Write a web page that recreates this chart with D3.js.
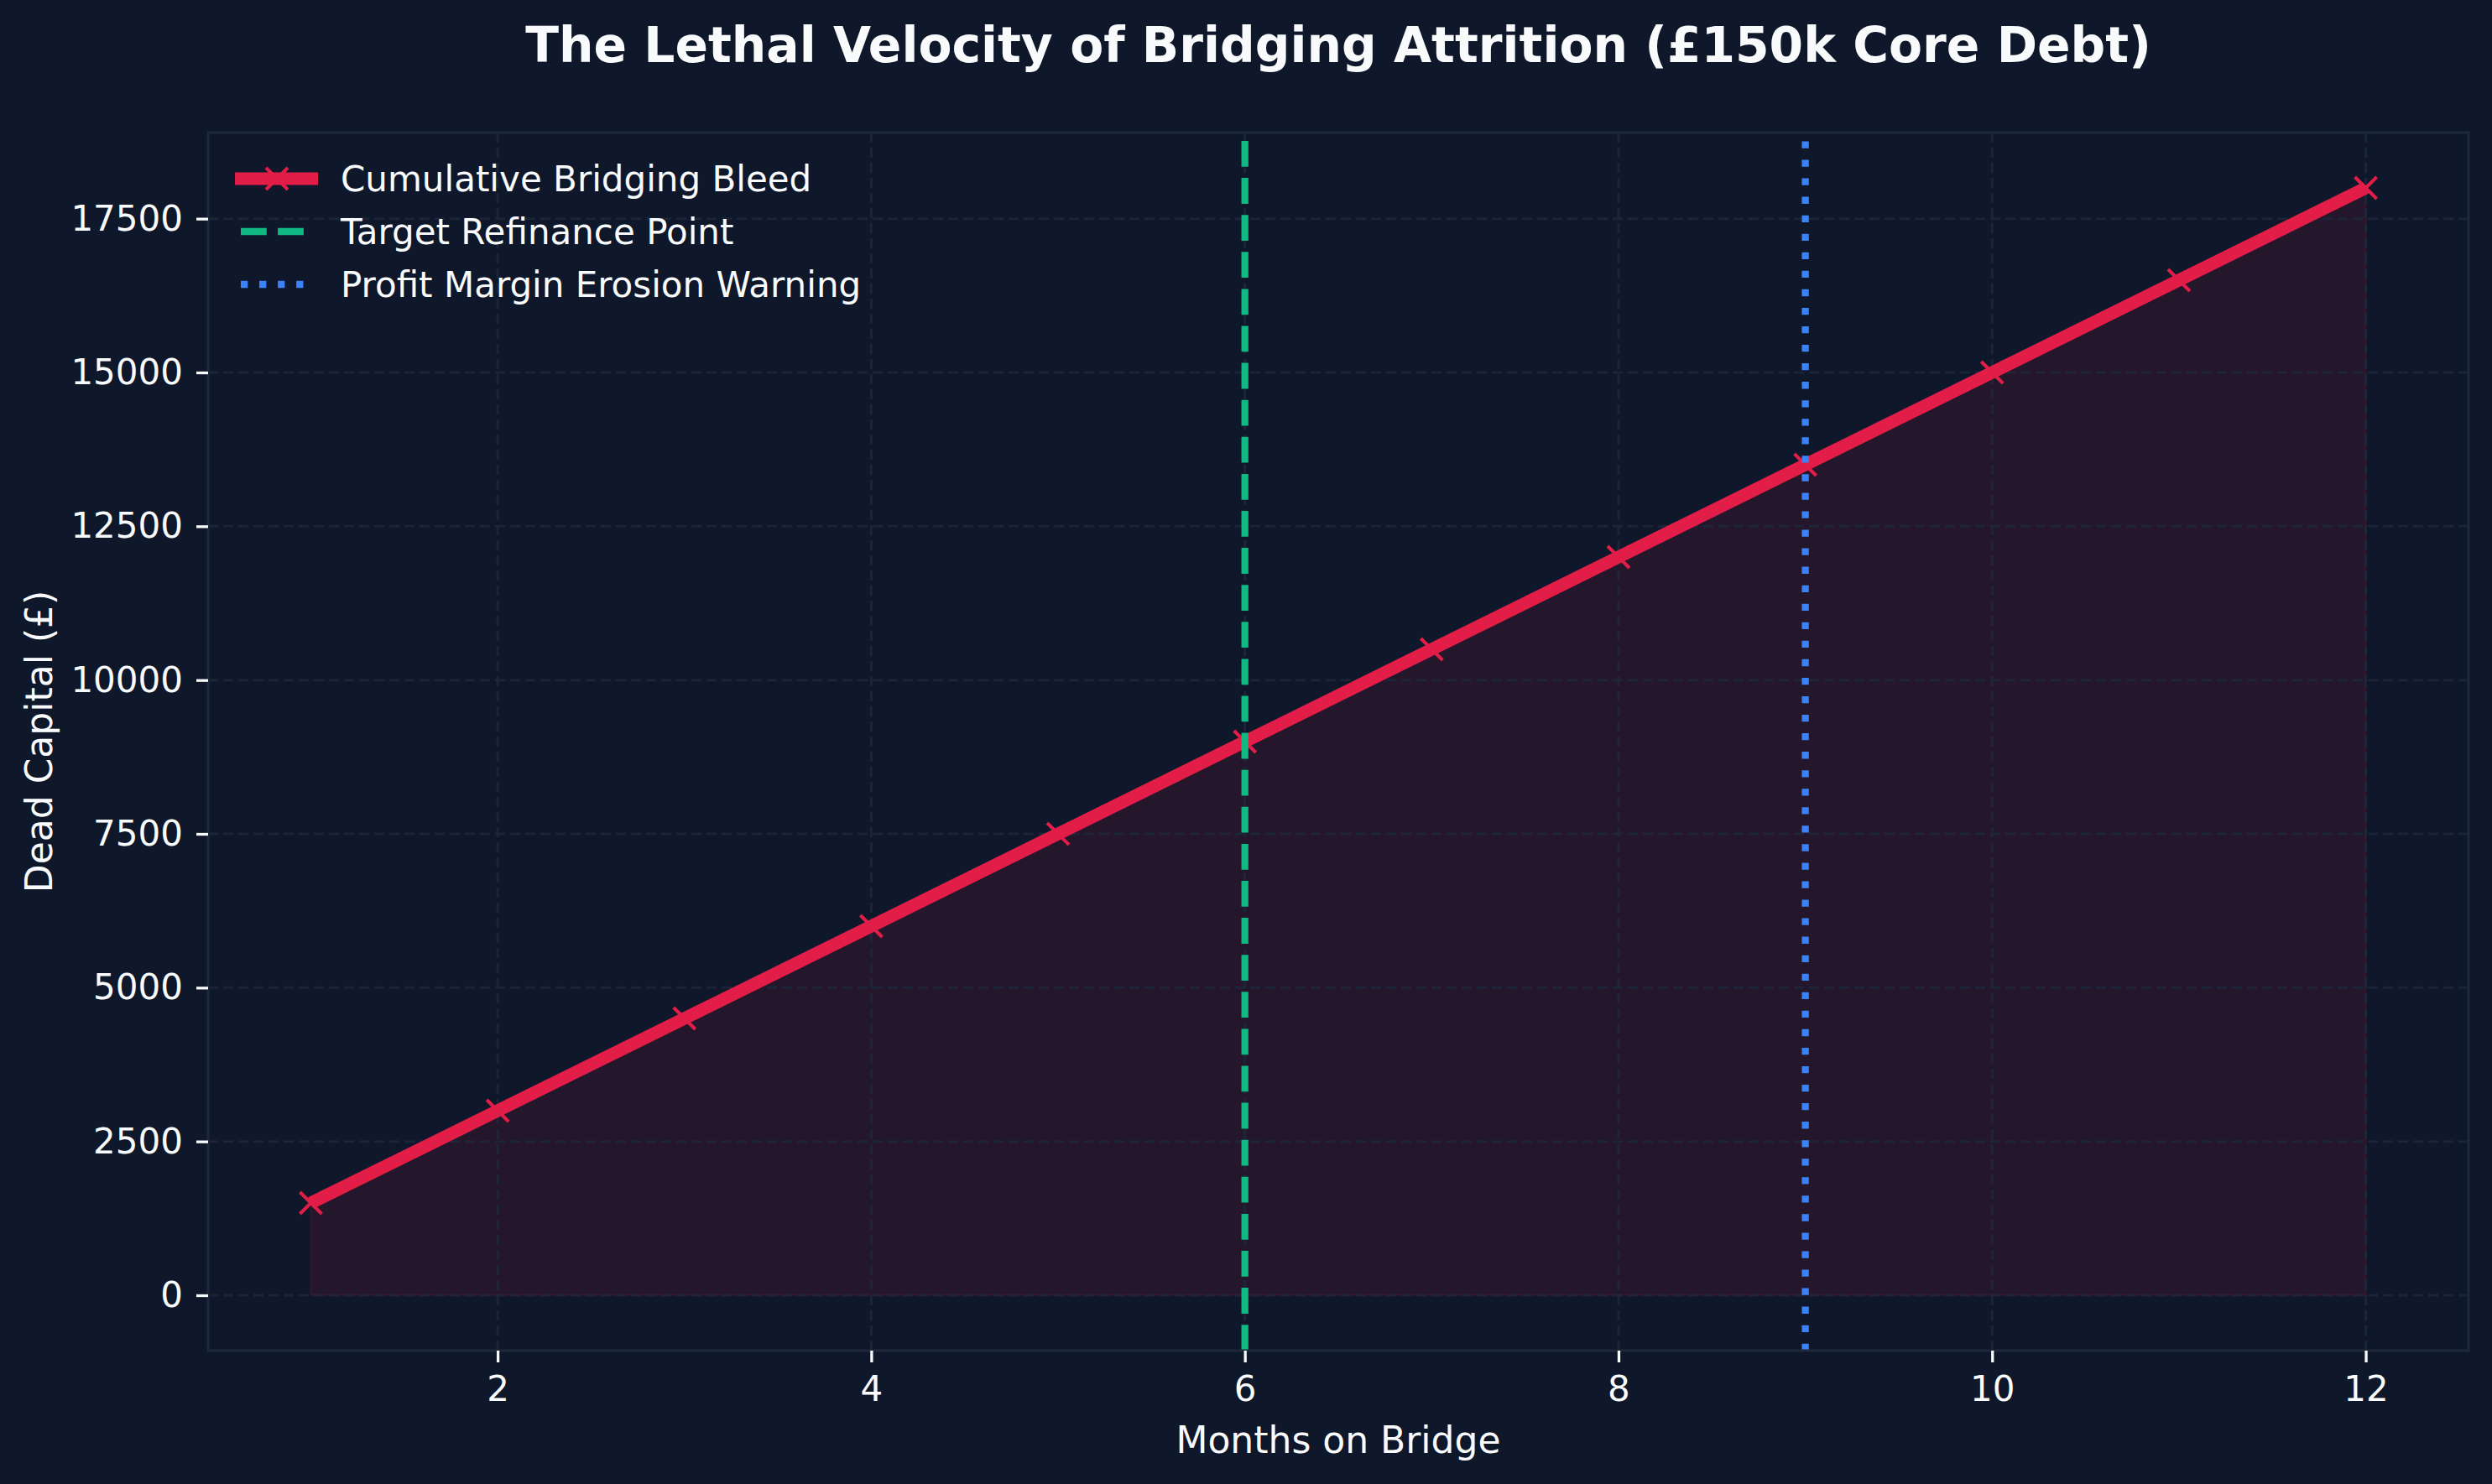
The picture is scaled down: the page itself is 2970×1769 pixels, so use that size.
<!DOCTYPE html>
<html>
<head>
<meta charset="utf-8">
<script src="https://cdn.jsdelivr.net/npm/d3@7"></script>
<style>
  html, body { margin: 0; padding: 0; background: #0f172a; }
  svg { display: block; }
  text { font-family: "DejaVu Sans", sans-serif; }
</style>
</head>
<body>
<svg id="chart" width="2970" height="1769"></svg>
<script>
// data
const months = [1, 2, 3, 4, 5, 6, 7, 8, 9, 10, 11, 12];
const bleed = [1500, 3000, 4500, 6000, 7500, 9000, 10500, 12000, 13500, 15000, 16500, 18000];
const xTicks = [2, 4, 6, 8, 10, 12];
const yTicks = [0, 2500, 5000, 7500, 10000, 12500, 15000, 17500];
const refinanceMonth = 6;
const warningMonth = 9;
const legendLabels = ["Cumulative Bridging Bleed", "Target Refinance Point", "Profit Margin Erosion Warning"];

const bg = "#0f172a", red = "#e11d48", green = "#10b981", blue = "#3b82f6";
const spine = "#1e293b", textCol = "#f8fafc";

const pLeft = 248, pRight = 2942, pTop = 158, pBottom = 1610;

const svg = d3.select("#chart");
svg.append("rect").attr("width", 2970).attr("height", 1769).attr("fill", bg);

const x = d3.scaleLinear().domain([0.45, 12.55]).range([pLeft, pRight]);
const y = d3.scaleLinear().domain([-900, 18900]).range([pBottom, pTop]);

svg.append("clipPath").attr("id", "clip")
  .append("rect").attr("x", pLeft).attr("y", pTop).attr("width", pRight - pLeft).attr("height", pBottom - pTop);

const pts = months.map((m, i) => ({m, v: bleed[i]}));

// fill under the line
svg.append("path")
  .datum(pts)
  .attr("d", d3.area().x(d => x(d.m)).y0(y(0)).y1(d => y(d.v)))
  .attr("fill", red).attr("fill-opacity", 0.1)
  .attr("stroke", red).attr("stroke-opacity", 0.1).attr("stroke-width", 3);

// grid
const grid = svg.append("g").attr("clip-path", "url(#clip)");
grid.selectAll(".gx").data(xTicks).join("line")
  .attr("x1", d => x(d)).attr("x2", d => x(d)).attr("y1", pBottom).attr("y2", pTop)
  .attr("stroke", spine).attr("stroke-width", 3).attr("stroke-dasharray", "12 6").attr("opacity", 0.8);
grid.selectAll(".gy").data(yTicks).join("line")
  .attr("x1", pLeft).attr("x2", pRight).attr("y1", d => y(d)).attr("y2", d => y(d))
  .attr("stroke", spine).attr("stroke-width", 3).attr("stroke-dasharray", "12 6").attr("opacity", 0.8);

// main line
const plot = svg.append("g").attr("clip-path", "url(#clip)");
plot.append("path")
  .datum(pts)
  .attr("d", d3.line().x(d => x(d.m)).y(d => y(d.v)))
  .attr("fill", "none").attr("stroke", red).attr("stroke-width", 15)
  .attr("stroke-linejoin", "round");

const xMark = s => `M${-s},${-s}L${s},${s}M${-s},${s}L${s},${-s}`;
plot.selectAll(".mk").data(pts).join("path")
  .attr("transform", d => `translate(${x(d.m)},${y(d.v)})`)
  .attr("d", xMark(13))
  .attr("stroke", red).attr("stroke-width", 4).attr("fill", "none");

// reference lines
plot.append("line")
  .attr("x1", x(refinanceMonth)).attr("x2", x(refinanceMonth)).attr("y1", pBottom).attr("y2", pTop)
  .attr("stroke", green).attr("stroke-width", 8.3).attr("stroke-dasharray", "30.8 13.3");
plot.append("line")
  .attr("x1", x(warningMonth)).attr("x2", x(warningMonth)).attr("y1", pBottom).attr("y2", pTop)
  .attr("stroke", blue).attr("stroke-width", 8.3).attr("stroke-dasharray", "8.3 13.75");

// frame
svg.append("rect").attr("x", pLeft).attr("y", pTop).attr("width", pRight - pLeft).attr("height", pBottom - pTop)
  .attr("fill", "none").attr("stroke", spine).attr("stroke-width", 3);

// axes
const xAxis = svg.append("g").attr("transform", `translate(0,${pBottom})`)
  .call(d3.axisBottom(x).tickValues(xTicks).tickSize(14).tickPadding(16).tickFormat(d3.format("d")));
const yAxis = svg.append("g").attr("transform", `translate(${pLeft},0)`)
  .call(d3.axisLeft(y).tickValues(yTicks).tickSize(14).tickPadding(16).tickFormat(d3.format("d")));
[xAxis, yAxis].forEach(g => {
  g.select(".domain").remove();
  g.selectAll(".tick line").attr("stroke", textCol).attr("stroke-width", 3.3);
  g.selectAll(".tick text").attr("fill", textCol).attr("font-size", 42)
    .style("font-family", "DejaVu Sans, sans-serif");
});

// title and labels
svg.append("text").attr("x", (pLeft + pRight) / 2).attr("y", 74)
  .attr("text-anchor", "middle").attr("fill", textCol)
  .attr("font-size", 58.3).attr("font-weight", "bold")
  .text("The Lethal Velocity of Bridging Attrition (£150k Core Debt)");
svg.append("text").attr("x", (pLeft + pRight) / 2).attr("y", 1732)
  .attr("text-anchor", "middle").attr("fill", textCol).attr("font-size", 44)
  .text("Months on Bridge");
svg.append("text").attr("transform", `translate(62,${(pTop + pBottom) / 2}) rotate(-90)`)
  .attr("text-anchor", "middle").attr("fill", textCol).attr("font-size", 44)
  .text("Dead Capital (£)");

// legend
const leg = svg.append("g");
const rowY = [213, 276, 339];
leg.append("line").attr("x1", 280).attr("x2", 379).attr("y1", rowY[0]).attr("y2", rowY[0])
  .attr("stroke", red).attr("stroke-width", 15);
leg.append("path").attr("transform", `translate(330,${rowY[0]})`).attr("d", xMark(13))
  .attr("stroke", red).attr("stroke-width", 4);
leg.append("line").attr("x1", 287).attr("x2", 372).attr("y1", rowY[1]).attr("y2", rowY[1])
  .attr("stroke", green).attr("stroke-width", 8.3).attr("stroke-dasharray", "30.8 13.3");
leg.append("line").attr("x1", 287).attr("x2", 372).attr("y1", rowY[2]).attr("y2", rowY[2])
  .attr("stroke", blue).attr("stroke-width", 8.3).attr("stroke-dasharray", "8.3 13.75");
leg.selectAll(".lt").data(legendLabels).join("text")
  .attr("x", 406).attr("y", (d, i) => rowY[i] + 15)
  .attr("fill", textCol).attr("font-size", 42)
  .text(d => d);
</script>
</body>
</html>
